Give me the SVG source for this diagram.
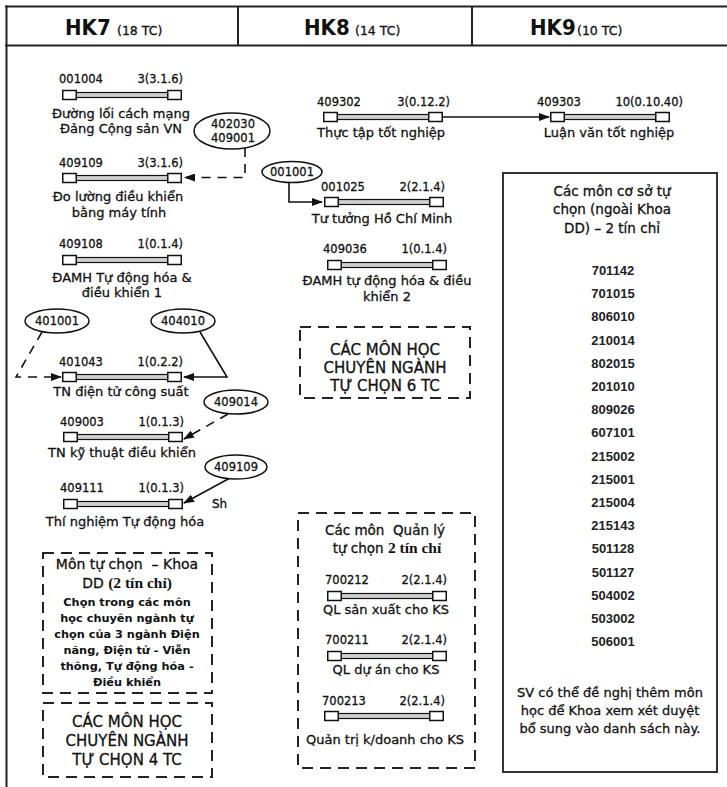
<svg xmlns="http://www.w3.org/2000/svg" xmlns:xlink="http://www.w3.org/1999/xlink" width="727" height="787" viewBox="0 0 727 787">
<style>
text{font-family:"DejaVu Sans","Noto Sans",sans-serif;fill:#111}
.w{stroke:#111;stroke-width:0.3}
.code{font-size:11.5px}
.cr{font-size:11.5px;text-anchor:end}
.lbl{font-size:13px;text-anchor:middle}
.ell{fill:#fff;stroke:#111;stroke-width:1.5}
.en{font-size:11.5px;text-anchor:middle}
.dbox{fill:none;stroke:#222;stroke-width:2;stroke-dasharray:11 7}
.big{font-size:15px;text-anchor:middle}
.conn{fill:none;stroke:#111;stroke-width:1.6}
.dash{stroke-dasharray:9 7}
.num{font-family:"Liberation Sans",Arial,sans-serif;font-weight:bold;font-size:13px;text-anchor:middle;fill:#222}
.ser{font-family:"Liberation Serif","Times New Roman",serif;font-weight:bold;font-size:15.5px;stroke:none}
.hk{font-family:"DejaVu Sans Condensed","DejaVu Sans",sans-serif;font-weight:bold;font-size:22px}
.hks{font-size:12.5px}
.frame{stroke:#222;stroke-width:2;fill:none}
.bx{font-size:11.3px;font-weight:bold;text-anchor:middle}
.pre{white-space:pre}
</style>
<defs>
<marker id="ah" markerWidth="11" markerHeight="8" refX="10" refY="4" orient="auto" markerUnits="userSpaceOnUse"><path d="M0,0 L11,4 L0,8 z" fill="#111"/></marker>
<g id="bar">
<rect x="13" y="-2.5" width="94" height="5" fill="#d0d0d0" stroke="#111" stroke-width="1.2"/>
<rect x="0.75" y="-4.5" width="13.5" height="9" fill="#fff" stroke="#111" stroke-width="1.5"/>
<rect x="105.75" y="-4.5" width="13.5" height="9" fill="#fff" stroke="#111" stroke-width="1.5"/>
</g>
</defs>

<g id="frame">
<line class="frame" x1="5" y1="6.5" x2="727" y2="6.5"/>
<line class="frame" x1="5" y1="45.5" x2="727" y2="45.5"/>
<line class="frame" x1="6.5" y1="5.5" x2="6.5" y2="787" stroke-width="2.5"/>
<line class="frame" x1="238" y1="6.5" x2="238" y2="45.5"/>
<line class="frame" x1="472" y1="6.5" x2="472" y2="45.5"/>
<text x="65" y="35" class="hk">HK7</text><text x="117" y="35" class="hks w">(18 TC)</text>
<text x="304" y="35" class="hk">HK8</text><text x="355" y="35" class="hks w">(14 TC)</text>
<text x="530" y="35" class="hk">HK9</text><text x="577" y="35" class="hks w">(10 TC)</text>
</g>

<g id="connectors">
<path class="conn dash" d="M245,148 V177.5 H185" marker-end="url(#ah)"/>
<path class="conn dash" d="M42,332 L16,377 H61" marker-end="url(#ah)"/>
<path class="conn" d="M200,332 L227,377 H184" marker-end="url(#ah)"/>
<path class="conn dash" d="M228,414 L184,439" marker-end="url(#ah)"/>
<path class="conn" d="M230,478 L184,503" marker-end="url(#ah)"/>
<path class="conn" d="M289,182 V202 H322" marker-end="url(#ah)"/>
<path class="conn" d="M443,117 H549" marker-end="url(#ah)"/>
</g>

<g id="n001004">
<use xlink:href="#bar" x="62" y="95"/>
<text class="code w" x="59" y="83">001004</text><text class="cr w" x="183" y="83">3(3.1.6)</text>
<text class="lbl w" x="121" y="118">Đường lối cách mạng</text>
<text class="lbl w" x="121" y="133">Đảng Cộng sản VN</text>
</g>

<g id="e402030">
<ellipse class="ell" cx="232" cy="131" rx="38" ry="18"/>
<text class="en w" x="233" y="128">402030</text>
<text class="en w" x="233" y="142">409001</text>
</g>

<g id="n409109">
<use xlink:href="#bar" x="62" y="178"/>
<text class="code w" x="59" y="167">409109</text><text class="cr w" x="183" y="167">3(3.1.6)</text>
<text class="lbl w" x="118" y="201">Đo lường điều khiển</text>
<text class="lbl w" x="119" y="217">bằng máy tính</text>
</g>

<g id="n409108">
<use xlink:href="#bar" x="62" y="260"/>
<text class="code w" x="59" y="248">409108</text><text class="cr w" x="183" y="248">1(0.1.4)</text>
<text class="lbl w" x="122" y="282">ĐAMH Tự động hóa &amp;</text>
<text class="lbl w" x="122" y="297">điều khiển 1</text>
</g>

<g id="e401001">
<ellipse class="ell" cx="57" cy="321" rx="32" ry="12"/>
<text class="en w" x="57" y="325">401001</text>
</g>
<g id="e404010">
<ellipse class="ell" cx="183" cy="321" rx="32" ry="12"/>
<text class="en w" x="183" y="325">404010</text>
</g>

<g id="n401043">
<use xlink:href="#bar" x="62" y="377"/>
<text class="code w" x="59" y="366">401043</text><text class="cr w" x="183" y="366">1(0.2.2)</text>
<text class="lbl w" x="121" y="396">TN điện tử công suất</text>
</g>

<g id="e409014">
<ellipse class="ell" cx="236" cy="402" rx="32" ry="12"/>
<text class="en w" x="236" y="406">409014</text>
</g>

<g id="n409003">
<use xlink:href="#bar" x="63" y="437"/>
<text class="code w" x="60" y="426">409003</text><text class="cr w" x="184" y="426">1(0.1.3)</text>
<text class="lbl w" x="122" y="457">TN kỹ thuật điều khiển</text>
</g>

<g id="e409109">
<ellipse class="ell" cx="236" cy="467" rx="31" ry="12"/>
<text class="en w" x="236" y="471">409109</text>
</g>

<g id="n409111">
<use xlink:href="#bar" x="63" y="504"/>
<text class="code w" x="60" y="492">409111</text><text class="cr w" x="184" y="492">1(0.1.3)</text>
<text class="lbl w" x="125" y="526">Thí nghiệm Tự động hóa</text>
<text class="code w" x="212" y="508" style="font-size:12px">Sh</text>
</g>

<g id="boxKhoaDD">
<rect class="dbox" x="43" y="553" width="169" height="140"/>
<text class="w pre" x="127" y="569" style="font-size:14px;text-anchor:middle">Môn tự chọn  – Khoa</text>
<text class="w" x="127" y="588" style="font-size:14px;text-anchor:middle">DD <tspan class="ser">(2 tín chỉ)</tspan></text>
<text class="bx" x="127" y="606">Chọn trong các môn</text>
<text class="bx" x="127" y="622">học chuyên ngành tự</text>
<text class="bx" x="127" y="638">chọn của 3 ngành Điện</text>
<text class="bx" x="127" y="654">năng, Điện tử - Viễn</text>
<text class="bx" x="127" y="670">thông, Tự động hóa -</text>
<text class="bx" x="127" y="686">Điều khiển</text>
</g>

<g id="box4TC">
<rect class="dbox" x="43" y="703" width="169" height="74"/>
<text class="big w" x="127" y="727">CÁC MÔN HỌC</text>
<text class="big w" x="127" y="746">CHUYÊN NGÀNH</text>
<text class="big w" x="127" y="765">TỰ CHỌN 4 TC</text>
</g>

<g id="n409302">
<use xlink:href="#bar" x="323" y="117"/>
<text class="code w" x="317" y="106">409302</text><text class="cr w" x="450" y="106">3(0.12.2)</text>
<text class="lbl w" x="381" y="137">Thực tập tốt nghiệp</text>
</g>

<g id="n409303">
<use xlink:href="#bar" x="550" y="117"/>
<text class="code w" x="537" y="106">409303</text><text class="cr w" x="683" y="106">10(0.10.40)</text>
<text class="lbl w" x="609" y="137">Luận văn tốt nghiệp</text>
</g>

<g id="e001001">
<ellipse class="ell" cx="292" cy="172" rx="30" ry="10.5"/>
<text class="en w" x="292" y="176">001001</text>
</g>

<g id="n001025">
<use xlink:href="#bar" x="324" y="202"/>
<text class="code w" x="321" y="191">001025</text><text class="cr w" x="445" y="191">2(2.1.4)</text>
<text class="lbl w" x="382" y="223">Tư tưởng Hồ Chí Minh</text>
</g>

<g id="n409036">
<use xlink:href="#bar" x="327" y="265"/>
<text class="code w" x="323" y="253">409036</text><text class="cr w" x="447" y="253">1(0.1.4)</text>
<text class="lbl w" x="387" y="285">ĐAMH tự động hóa &amp; điều</text>
<text class="lbl w" x="387" y="301">khiển 2</text>
</g>

<g id="box6TC">
<rect class="dbox" x="300" y="327" width="170" height="71"/>
<text class="big w" x="385" y="355">CÁC MÔN HỌC</text>
<text class="big w" x="385" y="373">CHUYÊN NGÀNH</text>
<text class="big w" x="385" y="391">TỰ CHỌN 6 TC</text>
</g>

<g id="boxQL">
<rect class="dbox" x="298" y="513" width="177" height="255"/>
<text class="w pre" x="385" y="535" style="font-size:13.5px;text-anchor:middle">Các môn  Quản lý</text>
<text class="w" x="387" y="553" style="font-size:13.5px;text-anchor:middle">tự chọn <tspan class="ser">2 tín chỉ</tspan></text>
</g>

<g id="n700212">
<use xlink:href="#bar" x="327" y="596"/>
<text class="code w" x="325" y="584">700212</text><text class="cr w" x="447" y="584">2(2.1.4)</text>
<text class="lbl w" x="386" y="614">QL sản xuất cho KS</text>
</g>

<g id="n700211">
<use xlink:href="#bar" x="327" y="656"/>
<text class="code w" x="325" y="644">700211</text><text class="cr w" x="447" y="644">2(2.1.4)</text>
<text class="lbl w" x="386" y="674">QL dự án cho KS</text>
</g>

<g id="n700213">
<use xlink:href="#bar" x="324" y="716"/>
<text class="code w" x="322" y="705">700213</text><text class="cr w" x="445" y="705">2(2.1.4)</text>
<text class="lbl w" x="385" y="744">Quản trị k/doanh cho KS</text>
</g>

<g id="boxCoSo">
<rect x="503" y="173" width="214" height="599" fill="#fff" stroke="#333" stroke-width="2"/>
<text class="w" x="612" y="196" style="font-size:13.5px;text-anchor:middle">Các môn cơ sở tự</text>
<text class="w" x="612" y="214" style="font-size:13.5px;text-anchor:middle">chọn (ngoài Khoa</text>
<text class="w" x="612" y="233" style="font-size:13.5px;text-anchor:middle">DD) – 2 tín chỉ</text>
<text class="num" x="613" y="275">701142</text>
<text class="num" x="613" y="298">701015</text>
<text class="num" x="613" y="321">806010</text>
<text class="num" x="613" y="345">210014</text>
<text class="num" x="613" y="368">802015</text>
<text class="num" x="613" y="391">201010</text>
<text class="num" x="613" y="414">809026</text>
<text class="num" x="613" y="437">607101</text>
<text class="num" x="613" y="461">215002</text>
<text class="num" x="613" y="484">215001</text>
<text class="num" x="613" y="507">215004</text>
<text class="num" x="613" y="530">215143</text>
<text class="num" x="613" y="553">501128</text>
<text class="num" x="613" y="577">501127</text>
<text class="num" x="613" y="600">504002</text>
<text class="num" x="613" y="623">503002</text>
<text class="num" x="613" y="646">506001</text>
<text class="w" x="610" y="697" style="font-size:13px;text-anchor:middle">SV có thể đề nghị thêm môn</text>
<text class="w" x="610" y="715" style="font-size:13px;text-anchor:middle">học để Khoa xem xét duyệt</text>
<text class="w" x="610" y="733" style="font-size:13px;text-anchor:middle">bổ sung vào danh sách này.</text>
</g>
</svg>
